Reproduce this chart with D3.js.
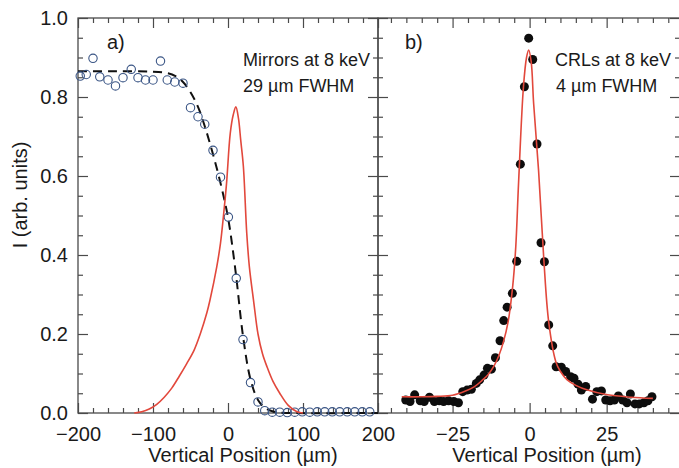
<!DOCTYPE html>
<html>
<head>
<meta charset="utf-8">
<script src="https://cdn.jsdelivr.net/npm/d3@7"></script>
<style>
  body { margin: 0; background: #fff; }
  svg { display: block; font-family: "Liberation Sans", Arial, sans-serif; }
</style>
</head>
<body>
<div id="chart"></div>
<script>
// panel a) knife-edge scan with mirrors (open circles), erf fit (dashed), derived profile (red)
const scanX = [-197, -189, -180, -171, -160, -150, -140, -129, -120, -110, -100, -90, -81, -71, -60, -50, -40, -31, -20, -10, 0.5,
  11, 20, 30, 40, 49, 59, 69, 79, 89, 99, 109, 119, 129, 139, 149, 159, 169, 179, 189];
const scanI = [0.853, 0.857, 0.898, 0.851, 0.843, 0.828, 0.849, 0.870, 0.849, 0.843, 0.843, 0.891, 0.843, 0.838, 0.835, 0.773, 0.750, 0.731, 0.665, 0.597, 0.496,
  0.341, 0.186, 0.077, 0.028, 0.006, 0.002, 0.002, 0.001, 0.002, 0.003, 0.002, 0.003, 0.003, 0.003, 0.003, 0.003, 0.003, 0.003, 0.003];

const edgeFitX = [-200, -150, -100, -80, -70, -60, -50, -40, -30, -20, -10, 0, 10, 20, 30, 40, 50, 60, 70, 80, 200];
const edgeFitI = [0.865, 0.865, 0.864, 0.86, 0.853, 0.838, 0.812, 0.775, 0.72, 0.655, 0.582, 0.495, 0.36, 0.195, 0.085, 0.033, 0.012, 0.004, 0.001, 0, 0];

const mirrorProfX = [-125, -115, -105, -95, -85, -75, -65, -55, -45, -37, -28, -24, -15, -10, -6, -2, 3, 7, 10.5, 14, 17, 20.5, 25, 28.5, 34, 40, 46, 52, 60, 69, 80, 92, 100];
const mirrorProfI = [0, 0.003, 0.01, 0.022, 0.04, 0.063, 0.093, 0.125, 0.16, 0.2, 0.255, 0.286, 0.37, 0.43, 0.5, 0.58, 0.708, 0.755, 0.775, 0.745, 0.69, 0.624, 0.455, 0.37, 0.286, 0.2, 0.15, 0.117, 0.08, 0.05, 0.02, 0.003, 0];

// panel b) CRL focus (filled dots) and fit (red)
const crlX = [-40.2, -38.8, -37.3, -35.5, -34.2, -32.5, -30.9, -29.3, -27.9, -26.3, -24.6, -23.1, -21.7, -20.3, -18.9, -17.3, -16.2, -14.8, -13.7, -12.4, -11.1, -9.6, -8.4, -7.3, -5.6, -4.2, -3.0, -1.7, -0.3,
  1.0, 2.4, 3.7, 4.8, 6.2, 7.5, 8.6, 10.3, 11.7, 13.3, 14.4, 15.7, 16.8, 18.2, 20.4, 21.8, 23.3, 24.7, 26.1, 27.5, 28.8, 30.2, 31.6, 32.7, 34.2, 35.6, 37.1, 38.4, 39.7];
const crlI = [0.033, 0.029, 0.046, 0.031, 0.029, 0.040, 0.029, 0.031, 0.029, 0.031, 0.029, 0.026, 0.054, 0.058, 0.060, 0.075, 0.084, 0.096, 0.113, 0.111, 0.140, 0.183, 0.234, 0.268, 0.303, 0.384, 0.630, 0.826, 0.949,
  0.895, 0.681, 0.431, 0.383, 0.223, 0.170, 0.117, 0.116, 0.105, 0.092, 0.088, 0.073, 0.058, 0.067, 0.035, 0.054, 0.056, 0.033, 0.031, 0.033, 0.043, 0.033, 0.026, 0.048, 0.023, 0.023, 0.026, 0.031, 0.041];

const crlFitX = [-41.5, -35, -30, -25, -21, -18, -15.5, -13.5, -11.5, -10, -8.5, -7, -5.5, -4.5, -3.6, -2, -1, -0.3, 0.5, 1.3, 2.9, 4.6, 6.2, 8.5, 10, 12.2, 15, 18.8, 25.3, 32.9, 40];
const crlFitI = [0.041, 0.041, 0.042, 0.045, 0.055, 0.066, 0.082, 0.097, 0.12, 0.145, 0.18, 0.23, 0.32, 0.42, 0.58, 0.826, 0.9, 0.919, 0.89, 0.784, 0.615, 0.39, 0.23, 0.13, 0.105, 0.084, 0.07, 0.058, 0.046, 0.04, 0.037];

const yTicks = [0, 0.2, 0.4, 0.6, 0.8, 1.0];
const xTicksA = [-200, -100, 0, 100, 200];
const xTicksB = [-25, 0, 25];

const width = 679, height = 468;
const plotTop = 18, plotBottom = 413;
const frameColor = "#4a4a4a", textColor = "#1a1a1a", red = "#e2483c";

const svg = d3.select("#chart").append("svg")
  .attr("width", width)
  .attr("height", height)
  .attr("viewBox", [0, 0, width, height]);

const y = d3.scaleLinear([0, 1], [plotBottom, plotTop]);
const xA = d3.scaleLinear([-200, 200], [78, 378]);
const xB = d3.scaleLinear([-49.2, 48.8], [378, 680]);

const yMinor = d3.range(0, 1.0001, 0.05).filter(v => Math.round(v * 100) % 20 !== 0);

function frame(x, majorX, minorX) {
  const [x0, x1] = x.range();
  const g = svg.append("g");
  // bottom + top
  [[d3.axisBottom, plotBottom], [d3.axisTop, plotTop]].forEach(([ax, yy]) => {
    g.append("g").attr("transform", `translate(0,${yy})`)
      .call(ax(x).tickValues(minorX).tickSize(-5).tickFormat(""));
    g.append("g").attr("transform", `translate(0,${yy})`)
      .call(ax(x).tickValues(majorX).tickSize(-10).tickFormat(""));
  });
  [[d3.axisLeft, x0], [d3.axisRight, x1]].forEach(([ax, xx]) => {
    g.append("g").attr("transform", `translate(${xx},0)`)
      .call(ax(y).tickValues(yMinor).tickSize(-5).tickFormat(""));
    g.append("g").attr("transform", `translate(${xx},0)`)
      .call(ax(y).tickValues(yTicks).tickSize(-10).tickFormat(""));
  });
  g.selectAll(".domain").remove();
  g.selectAll(".tick line").attr("stroke", frameColor).attr("stroke-width", 1.2);
  g.append("rect")
    .attr("x", x0).attr("y", plotTop)
    .attr("width", x1 - x0).attr("height", plotBottom - plotTop)
    .attr("fill", "none").attr("stroke", frameColor).attr("stroke-width", 1.3);

  // x tick labels
  const lab = svg.append("g").attr("transform", `translate(0,${plotBottom})`)
    .call(d3.axisBottom(x).tickValues(majorX).tickSize(0).tickPadding(14));
  lab.select(".domain").remove();
  lab.selectAll("text").attr("font-size", 20).attr("fill", textColor)
    .attr("font-family", "Liberation Sans, Arial, sans-serif");
}

frame(xA, xTicksA, d3.range(-200, 201, 20).filter(v => v % 100 !== 0));
frame(xB, xTicksB, d3.range(-45, 46, 5).filter(v => v % 25 !== 0));

// y tick labels
const yl = svg.append("g").attr("transform", "translate(78,0)")
  .call(d3.axisLeft(y).tickValues(yTicks).tickSize(0).tickPadding(10).tickFormat(d3.format(".1f")));
yl.select(".domain").remove();
yl.selectAll("text").attr("font-size", 20).attr("fill", textColor)
  .attr("font-family", "Liberation Sans, Arial, sans-serif");

// axis titles
svg.append("text")
  .attr("transform", "translate(27,195) rotate(-90)")
  .attr("text-anchor", "middle").attr("font-size", 20).attr("fill", textColor)
  .text("I (arb. units)");
[[243, "Vertical Position (µm)"], [547, "Vertical Position (µm)"]].forEach(([cx, t]) => {
  svg.append("text").attr("x", cx).attr("y", 462)
    .attr("text-anchor", "middle").attr("font-size", 20).attr("fill", textColor).text(t);
});

// panel a marks
const smooth = d3.curveCatmullRom.alpha(0.5);
const lineA = d3.line().x(d => xA(d[0])).y(d => y(d[1])).curve(smooth);
svg.append("path")
  .attr("d", lineA(d3.zip(edgeFitX, edgeFitI)))
  .attr("fill", "none").attr("stroke", "#111").attr("stroke-width", 2)
  .attr("stroke-dasharray", "9,6");
svg.append("g").selectAll("circle")
  .data(d3.zip(scanX, scanI))
  .join("circle")
  .attr("cx", d => xA(d[0])).attr("cy", d => y(d[1])).attr("r", 4.2)
  .attr("fill", "none").attr("stroke", "#3a5585").attr("stroke-width", 1.1);
svg.append("path")
  .attr("d", lineA(d3.zip(mirrorProfX, mirrorProfI)))
  .attr("fill", "none").attr("stroke", red).attr("stroke-width", 1.6);

// panel b marks
const lineB = d3.line().x(d => xB(d[0])).y(d => y(d[1])).curve(smooth);
svg.append("g").selectAll("circle")
  .data(d3.zip(crlX, crlI))
  .join("circle")
  .attr("cx", d => xB(d[0])).attr("cy", d => y(d[1])).attr("r", 4.5)
  .attr("fill", "#0d0d0d");
svg.append("path")
  .attr("d", lineB(d3.zip(crlFitX, crlFitI)))
  .attr("fill", "none").attr("stroke", red).attr("stroke-width", 1.6);

// annotations
const notes = [
  [107, 49, "start", 20, "a)"],
  [370, 66, "end", 18, "Mirrors at 8 keV"],
  [243, 92, "start", 18, "29 µm FWHM"],
  [405, 49, "start", 20, "b)"],
  [555, 66, "start", 18, "CRLs at 8 keV"],
  [556, 92, "start", 18, "4 µm FWHM"]
];
svg.append("g").selectAll("text")
  .data(notes)
  .join("text")
  .attr("x", d => d[0]).attr("y", d => d[1])
  .attr("text-anchor", d => d[2]).attr("font-size", d => d[3])
  .attr("fill", textColor)
  .text(d => d[4]);
</script>
</body>
</html>
